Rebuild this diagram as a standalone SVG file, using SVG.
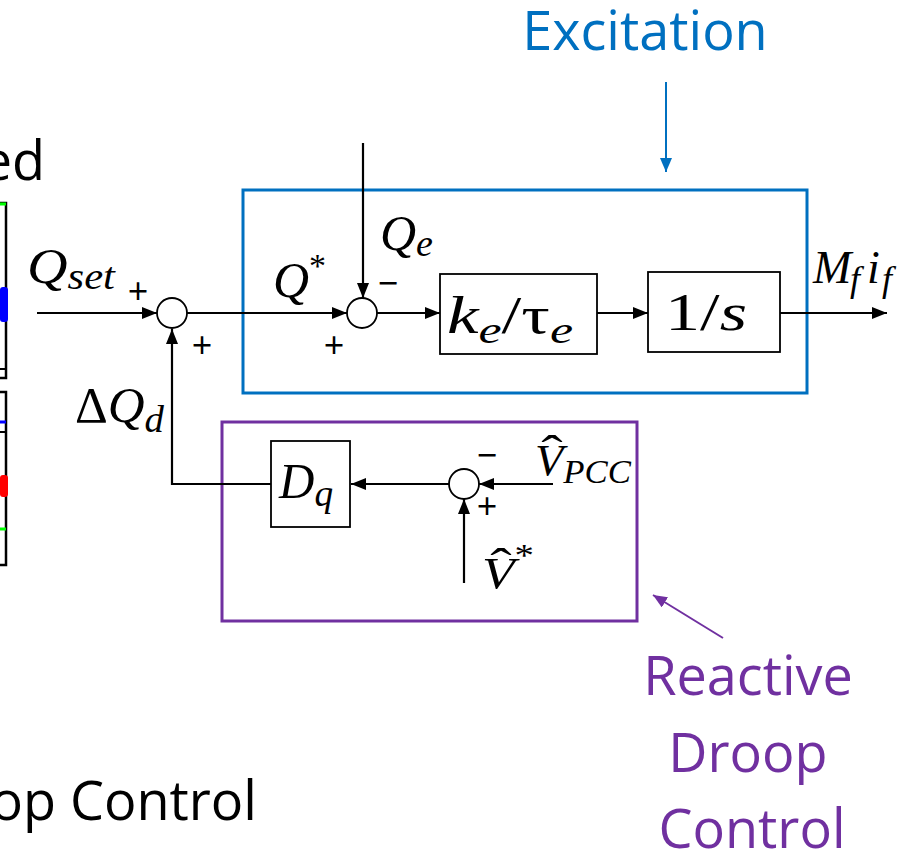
<svg xmlns="http://www.w3.org/2000/svg" width="917" height="852" viewBox="0 0 917 852">
<defs>
<marker id="ah" markerUnits="userSpaceOnUse" markerWidth="15" markerHeight="12" refX="15" refY="6" orient="auto"><path d="M0,0 L15,6 L0,12 z" fill="#000"/></marker>
<marker id="ahb" markerUnits="userSpaceOnUse" markerWidth="14" markerHeight="12" refX="14" refY="6" orient="auto"><path d="M0,0 L14,6 L0,12 z" fill="#0070C0"/></marker>
<marker id="ahp" markerUnits="userSpaceOnUse" markerWidth="14" markerHeight="12" refX="14" refY="6" orient="auto"><path d="M0,0 L14,6 L0,12 z" fill="#7030A0"/></marker>
<style>
.ln{fill:none;stroke:#000;stroke-width:2.2}
.blk{fill:#fff;stroke:#000;stroke-width:1.8}
.sum{fill:#fff;stroke:#000;stroke-width:1.8}
.m{font-family:"Liberation Serif","DejaVu Serif",serif;font-style:italic;fill:#000}
.r{font-family:"Liberation Serif","DejaVu Serif",serif;fill:#000}
.sg{font-family:"Open Sans","Liberation Sans",sans-serif;font-size:36px;fill:#000;text-anchor:middle}
.lab{font-family:"Open Sans","Liberation Sans",sans-serif;font-size:54px}
</style>
</defs>

<!-- partial left element -->
<g id="left-partial">
<text x="45" y="180" class="lab" text-anchor="end" fill="#000" font-size="50">ed</text>
<rect x="-10" y="203" width="16" height="175" fill="none" stroke="#000" stroke-width="2.5"/>
<line x1="0" y1="204" x2="6" y2="204" stroke="#00FF00" stroke-width="3"/>
<rect x="0" y="287" width="8" height="35" rx="3" fill="#0000FF"/>
<line x1="0" y1="369" x2="6" y2="369" stroke="#000" stroke-width="2"/>
<rect x="-10" y="392" width="16" height="173" fill="none" stroke="#000" stroke-width="2.5"/>
<line x1="0" y1="422" x2="6" y2="422" stroke="#0000FF" stroke-width="3"/>
<line x1="0" y1="432" x2="6" y2="432" stroke="#000" stroke-width="2"/>
<rect x="0" y="475" width="8" height="22" rx="3" fill="#FF0000"/>
<line x1="0" y1="529" x2="6" y2="529" stroke="#00FF00" stroke-width="3"/>
<text x="257" y="820" class="lab" text-anchor="end" fill="#000" font-size="56">op Control</text>
</g>

<!-- group boxes -->
<g id="excitation-box">
<rect x="243" y="190" width="564" height="203" fill="none" stroke="#0070C0" stroke-width="3"/>
<text x="645" y="50" class="lab" text-anchor="middle" fill="#0070C0">Excitation</text>
</g>
<g id="droop-box">
<rect x="222" y="422" width="415" height="199" fill="none" stroke="#7030A0" stroke-width="3"/>
<text class="lab" text-anchor="middle" fill="#7030A0"><tspan x="748" y="695">Reactive</tspan><tspan x="748" y="772">Droop</tspan><tspan x="752" y="848">Control</tspan></text>
</g>

<!-- connectors -->
<g id="connectors">
<path class="ln" d="M37,313 L157,313" marker-end="url(#ah)"/>
<path class="ln" d="M187,313 L347,313" marker-end="url(#ah)"/>
<path class="ln" d="M363,143 L363,298" marker-end="url(#ah)"/>
<path class="ln" d="M377,313 L440,313" marker-end="url(#ah)"/>
<path class="ln" d="M597,313 L648,313" marker-end="url(#ah)"/>
<path class="ln" d="M780,313 L887,313" marker-end="url(#ah)"/>
<path class="ln" d="M271,484 L172,484 L172,329" marker-end="url(#ah)"/>
<path class="ln" d="M449,484 L351,484" marker-end="url(#ah)"/>
<path class="ln" d="M553,484 L479,484" marker-end="url(#ah)"/>
<path class="ln" d="M464,583 L464,499" marker-end="url(#ah)"/>
<path d="M666,82 L666,172" fill="none" stroke="#0070C0" stroke-width="2" marker-end="url(#ahb)"/>
<path d="M723,638 L653,595" fill="none" stroke="#7030A0" stroke-width="2" marker-end="url(#ahp)"/>
</g>

<!-- nodes -->
<g id="sum1"><circle class="sum" cx="172" cy="313" r="15"/>
<text class="sg" x="138" y="304">+</text><text class="sg" x="202" y="358">+</text></g>
<g id="sum2"><circle class="sum" cx="362" cy="313" r="15"/>
<text class="sg" x="334" y="358">+</text><text class="sg" x="388" y="296">−</text></g>
<g id="sum3"><circle class="sum" cx="464" cy="484" r="15"/>
<text class="sg" x="487" y="468">−</text><text class="sg" x="487" y="519">+</text></g>

<g id="ke-block"><rect class="blk" x="440" y="274" width="157" height="80"/>
<text class="m" font-size="52" x="447" y="333" textLength="126" lengthAdjust="spacingAndGlyphs">k<tspan font-size="38" dy="10">e</tspan><tspan font-style="normal" dy="-10">/τ</tspan><tspan font-size="38" dy="10">e</tspan></text></g>
<g id="int-block"><rect class="blk" x="648" y="272" width="132" height="80"/>
<text class="r" font-size="52" x="665" y="330" textLength="82" lengthAdjust="spacingAndGlyphs">1/<tspan font-style="italic">s</tspan></text></g>
<g id="dq-block"><rect class="blk" x="271" y="441" width="79" height="86"/>
<text class="m" font-size="50" x="279" y="498" textLength="54" lengthAdjust="spacingAndGlyphs">D<tspan font-size="38" dy="8">q</tspan></text></g>

<!-- signal labels -->
<g id="labels">
<text class="m" font-size="50" x="27" y="283" textLength="88" lengthAdjust="spacingAndGlyphs">Q<tspan font-size="38" dy="6">set</tspan></text>
<text class="m" font-size="50" x="273" y="297" textLength="53" lengthAdjust="spacingAndGlyphs">Q<tspan font-size="34" font-style="normal" dy="-20">*</tspan></text>
<text class="m" font-size="50" x="380" y="250" textLength="53" lengthAdjust="spacingAndGlyphs">Q<tspan font-size="38" dy="6">e</tspan></text>
<text class="m" font-size="46" x="813" y="283">M<tspan font-size="36" x="850" dy="8">f</tspan><tspan x="867" dy="-8">i</tspan><tspan font-size="36" x="882" dy="8">f</tspan></text>
<text class="m" font-size="50" x="75" y="422" textLength="89" lengthAdjust="spacingAndGlyphs"><tspan font-style="normal">Δ</tspan>Q<tspan font-size="38" dy="10">d</tspan></text>
<text class="m" font-size="44" x="535" y="475" textLength="96" lengthAdjust="spacingAndGlyphs">V<tspan font-size="33" dy="8">PCC</tspan></text>
<text class="r" font-size="46" x="552" y="468" text-anchor="middle" transform="translate(552 0) scale(1.4 1) translate(-552 0)">ˆ</text>
<text class="m" font-size="44" x="482" y="588" textLength="52" lengthAdjust="spacingAndGlyphs">V<tspan font-size="32" font-style="normal" dy="-22">*</tspan></text>
<text class="r" font-size="46" x="501" y="581" text-anchor="middle" transform="translate(501 0) scale(1.4 1) translate(-501 0)">ˆ</text>
</g>
</svg>
